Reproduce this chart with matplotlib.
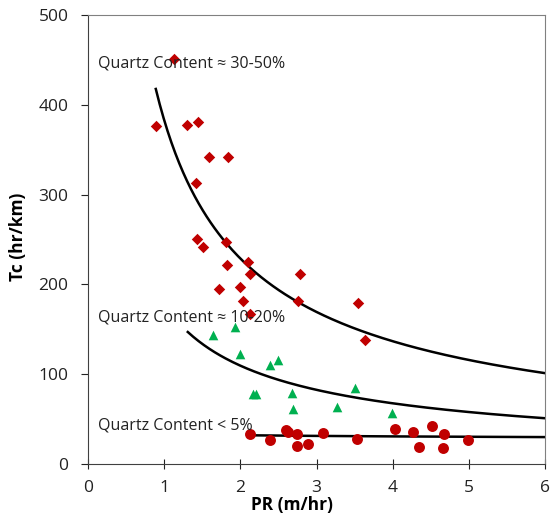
import numpy as np
import matplotlib
matplotlib.use("Agg")
import matplotlib.pyplot as plt

# High quartz (diamonds)
hi_x = [1.13, 0.89, 1.30, 1.45, 1.59, 1.84, 1.42, 1.43, 1.51, 1.81, 1.83, 2.10, 2.13,
        2.78, 1.72, 1.99, 2.04, 2.76, 3.55, 2.13, 3.64]
hi_y = [451, 376, 377, 381, 342, 342, 313, 251, 242, 247, 222, 225, 212,
        212, 195, 197, 181, 181, 179, 167, 138]
# Medium quartz (triangles)
mid_x = [1.64, 1.93, 1.99, 2.39, 2.49, 2.16, 2.21, 2.68, 2.69, 3.27, 3.50, 3.99]
mid_y = [144, 153, 122, 110, 116, 78, 78, 79, 61, 63, 85, 57]
# Low quartz (circles)
lo_x = [2.13, 2.39, 2.60, 2.63, 2.75, 2.75, 2.89, 3.09, 3.53, 4.03, 4.26, 4.34, 4.52,
        4.67, 4.66, 4.99]
lo_y = [33, 27, 38, 36, 33, 20, 22, 34, 28, 39, 36, 19, 42, 33, 18, 27]

# Power-law trend lines: y = a * x**b over [x_start, x_end]
fit_hi = (383.0, -0.743, 0.89, 6.0)
fit_mid = (177.4, -0.696, 1.31, 6.0)
fit_lo = (33.5, -0.062, 2.13, 6.0)

labels = ["Quartz Content \u2248 30-50%", "Quartz Content \u2248 10-20%", "Quartz Content < 5%"]
label_y = [446, 163, 43]

plt.rcParams['font.family'] = ['Open Sans', 'DejaVu Sans']

fig = plt.figure(figsize=(5.5, 5.28), dpi=100)
ax = fig.add_axes([0.16, 0.1212, 0.831, 0.8504])

red = '#C00000'
green = '#00B050'
ax.scatter(hi_x, hi_y, marker='D', s=34, color=red, zorder=3, linewidths=0)
ax.scatter(mid_x, mid_y, marker='^', s=48, color=green, zorder=3, linewidths=0)
ax.scatter(lo_x, lo_y, marker='o', s=62, color=red, zorder=3, linewidths=0)

for a, b, x0, x1 in (fit_hi, fit_mid, fit_lo):
    xs = np.linspace(x0, x1, 200)
    ax.plot(xs, a * xs ** b, color='black', lw=1.8, zorder=2)

for t, yy in zip(labels, label_y):
    ax.text(0.13, yy, t, fontsize=11.5, va='center', ha='left', color='#222222')

ax.set_xlim(0, 6)
ax.set_ylim(0, 500)
ax.set_xticks(range(0, 7))
ax.set_yticks(range(0, 501, 100))
ax.tick_params(axis='y', direction='out', length=5, pad=9, labelsize=12.5, colors='#222222')
ax.tick_params(axis='x', direction='inout', length=7, pad=8, labelsize=12.5, colors='#222222')
for side in ['left', 'bottom']:
    ax.spines[side].set_color('#404040')
for side in ['top', 'right']:
    ax.spines[side].set_color('#808080')
ax.set_xlabel('PR (m/hr)', fontsize=12.5, fontweight='bold')
ax.set_ylabel('Tc (hr/km)', fontsize=12.5, fontweight='bold')
ax.xaxis.set_label_coords(0.446, -0.072)
ax.yaxis.set_label_coords(-0.134, 0.505)

fig.savefig('out.png', dpi=100)
